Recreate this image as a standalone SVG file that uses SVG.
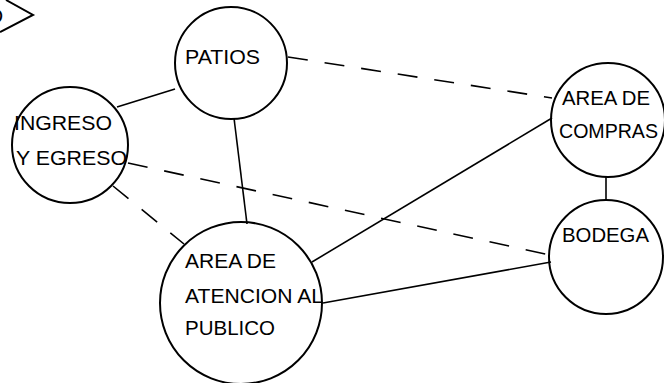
<svg xmlns="http://www.w3.org/2000/svg" width="664" height="383" viewBox="0 0 664 383">
<style>
.n{fill:none;stroke:#000;stroke-width:2}
.t{font-family:"Liberation Sans",Arial,sans-serif;font-size:21px;fill:#000}
.s{stroke:#000;stroke-width:1.6;fill:none}
.d{stroke:#000;stroke-width:1.6;fill:none;stroke-dasharray:20 17}
</style>
<rect width="664" height="383" fill="#fff"/>
<g id="marker-top-left">
<polyline class="n" points="6,0 33,15 0,32"/>
<text class="t" x="-12" y="23">D</text>
</g>
<g id="connectors">
<line class="s" x1="117" y1="107" x2="175" y2="89"/>
<line class="s" x1="234" y1="118" x2="247" y2="224"/>
<line class="d" x1="288" y1="57" x2="552" y2="98"/>
<line class="d" x1="113" y1="186" x2="184" y2="244"/>
<line class="d" x1="128" y1="163" x2="550" y2="255"/>
<line class="s" x1="312" y1="262" x2="552" y2="118"/>
<line class="s" x1="323" y1="303" x2="551" y2="262"/>
<line class="s" x1="606" y1="177" x2="606" y2="200"/>
</g>
<g id="patios">
<circle class="n" cx="231" cy="63" r="56"/>
<text class="t" x="185" y="64" textLength="75" lengthAdjust="spacingAndGlyphs">PATIOS</text>
</g>
<g id="ingreso">
<circle class="n" cx="70" cy="145" r="58"/>
<text class="t" x="14" y="130" textLength="98" lengthAdjust="spacingAndGlyphs">INGRESO</text>
<text class="t" x="16" y="165" textLength="111" lengthAdjust="spacingAndGlyphs">Y EGRESO</text>
</g>
<g id="atencion">
<circle class="n" cx="241" cy="303" r="81"/>
<text class="t" x="185" y="268" textLength="91" lengthAdjust="spacingAndGlyphs">AREA DE</text>
<text class="t" x="185" y="303" textLength="138" lengthAdjust="spacingAndGlyphs">ATENCION AL</text>
<text class="t" x="185" y="335" textLength="90" lengthAdjust="spacingAndGlyphs">PUBLICO</text>
</g>
<g id="compras">
<circle class="n" cx="608" cy="120" r="57"/>
<text class="t" x="562" y="105" textLength="88" lengthAdjust="spacingAndGlyphs">AREA DE</text>
<text class="t" x="559" y="138" textLength="99" lengthAdjust="spacingAndGlyphs">COMPRAS</text>
</g>
<g id="bodega">
<circle class="n" cx="606" cy="257" r="57"/>
<text class="t" x="562" y="242" textLength="87" lengthAdjust="spacingAndGlyphs">BODEGA</text>
</g>
</svg>
